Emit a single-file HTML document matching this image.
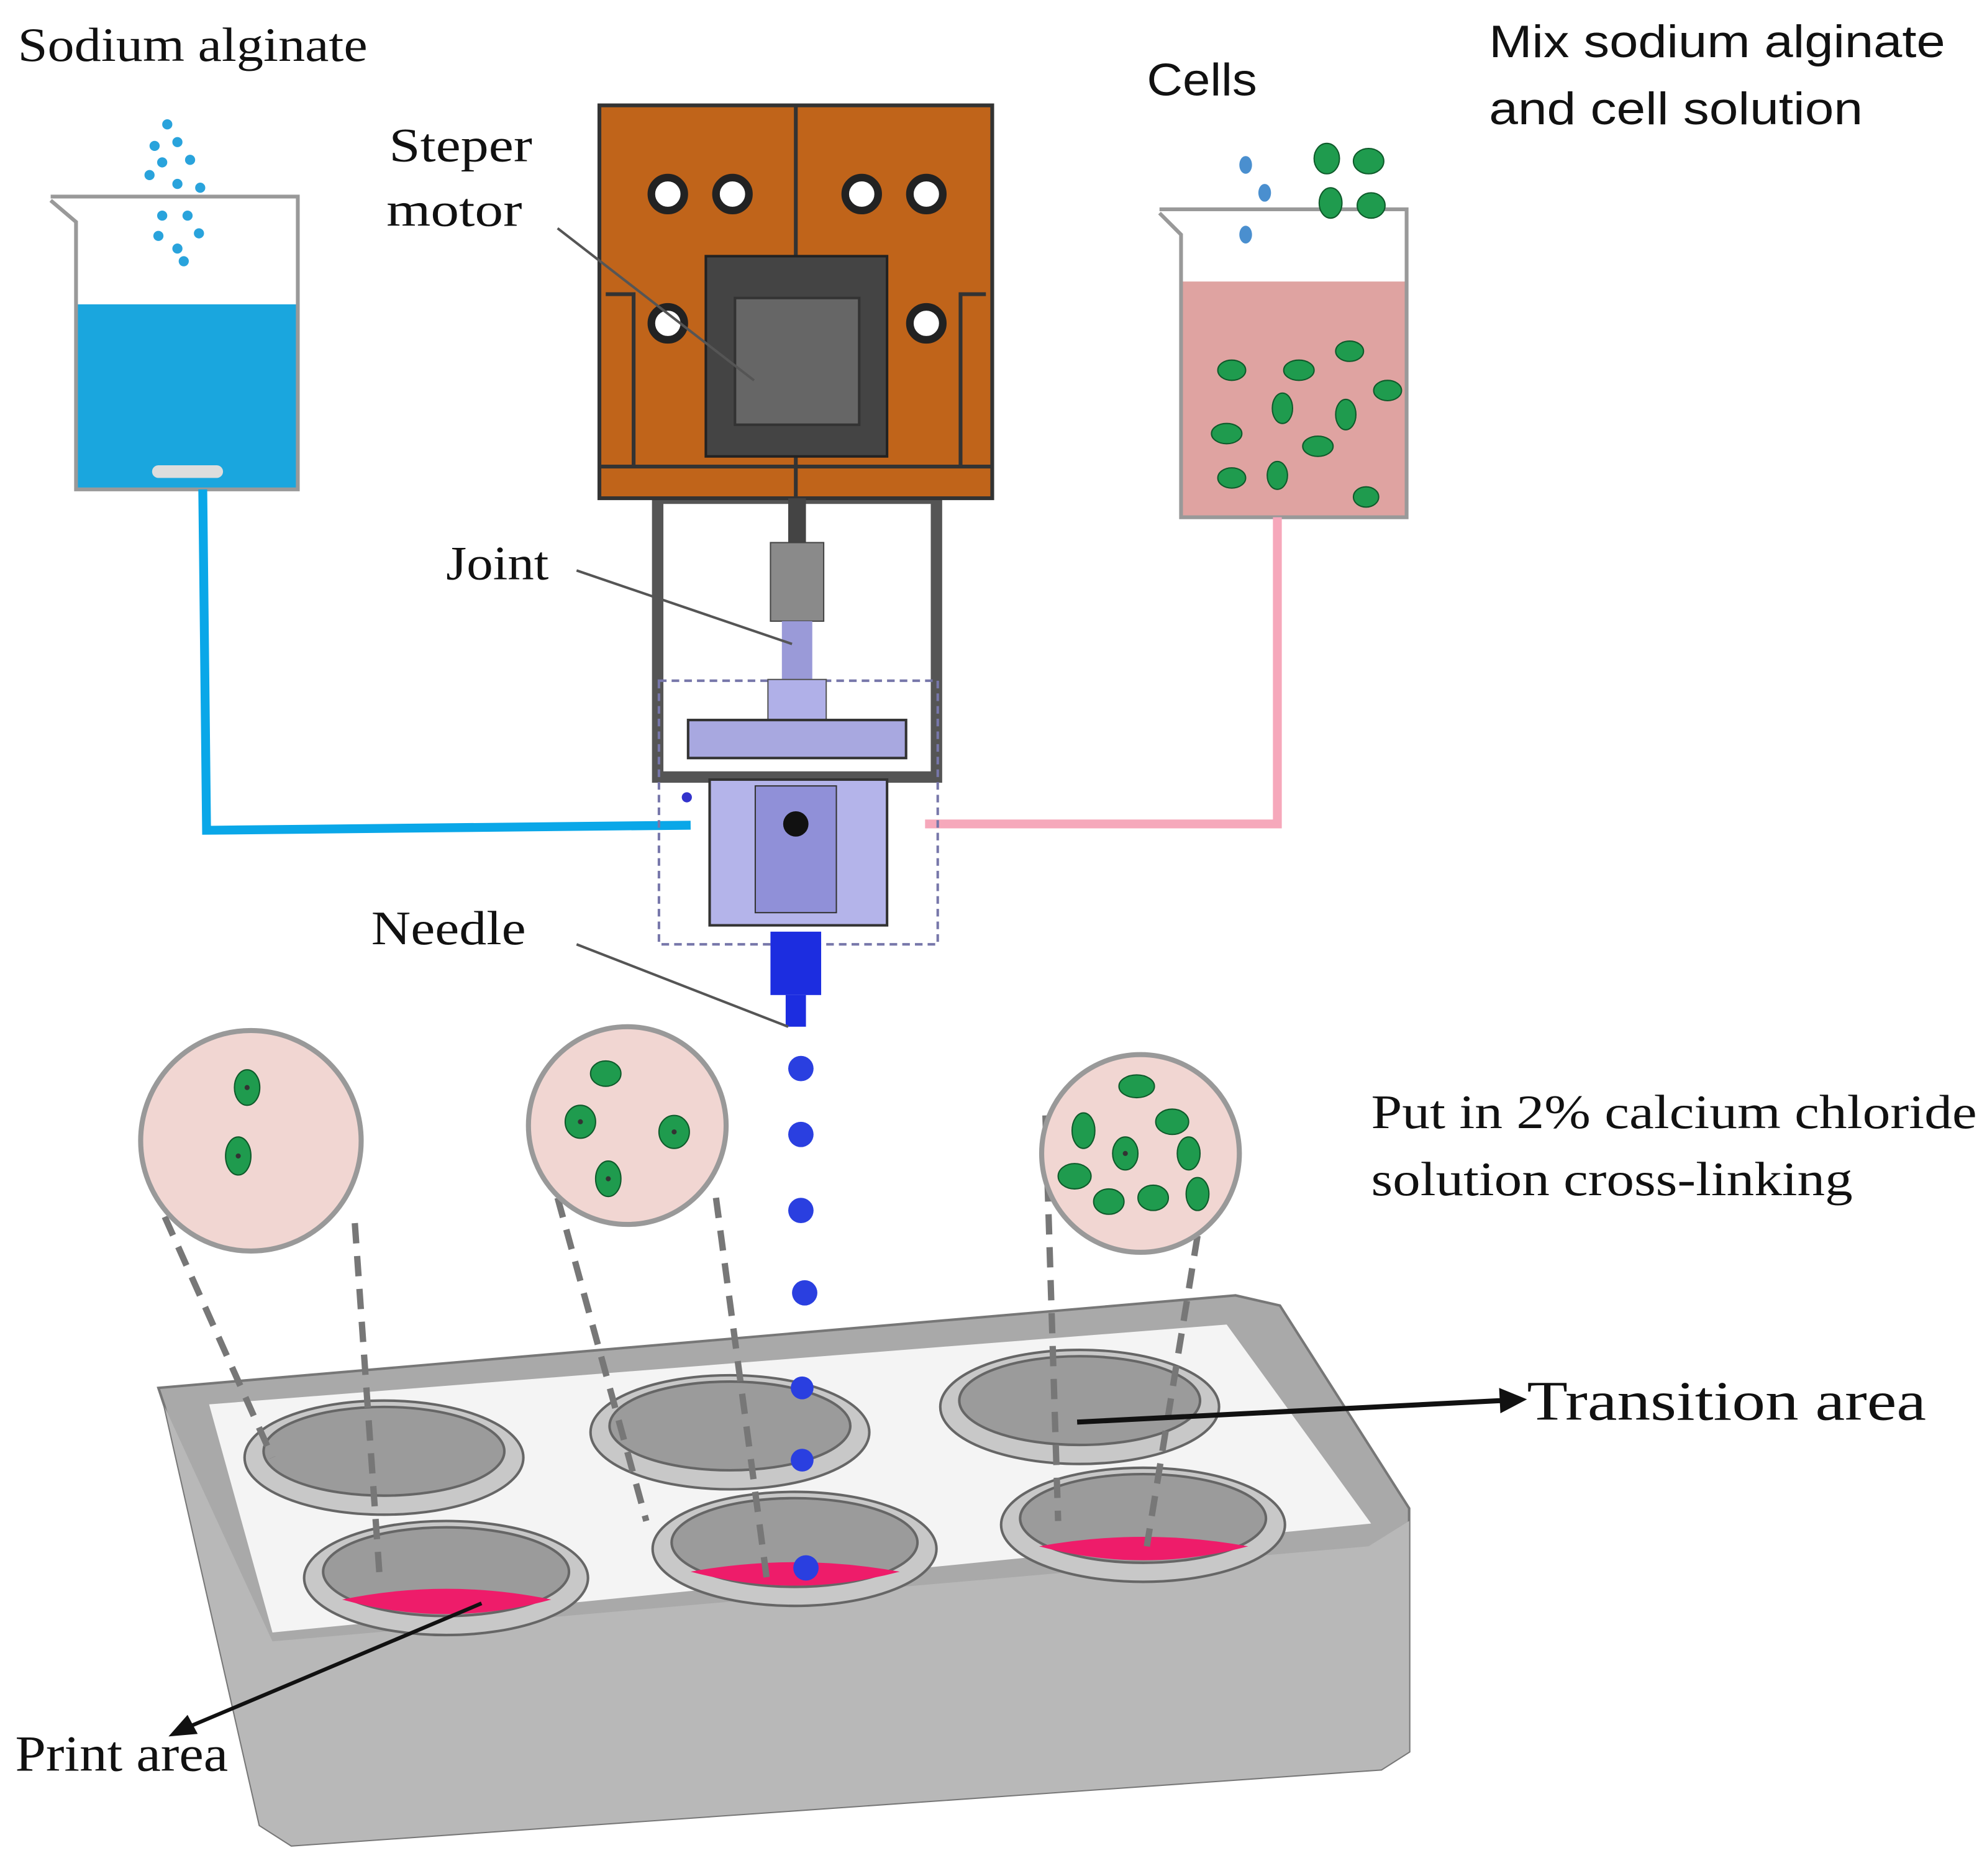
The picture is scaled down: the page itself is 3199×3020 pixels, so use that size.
<!DOCTYPE html>
<html><head><meta charset="utf-8"><style>
html,body{margin:0;padding:0;background:#fff;}
svg{display:block;}
text{font-family:"Liberation Serif",serif;fill:#111;}
.s{font-family:"Liberation Sans",sans-serif;}
</style></head><body>
<svg width="3199" height="3020" viewBox="0 0 1568 1480" xmlns="http://www.w3.org/2000/svg">
<rect width="1568" height="1480" fill="#fff"/>
<!-- texts -->
<text x="14" y="48" font-size="38" textLength="276" lengthAdjust="spacingAndGlyphs">Sodium alginate</text>
<text x="307" y="127" font-size="38" textLength="113" lengthAdjust="spacingAndGlyphs">Steper</text>
<text x="305" y="178" font-size="38" textLength="107" lengthAdjust="spacingAndGlyphs">motor</text>
<text x="352" y="457" font-size="38" textLength="81" lengthAdjust="spacingAndGlyphs">Joint</text>
<text x="293" y="745" font-size="38" textLength="122" lengthAdjust="spacingAndGlyphs">Needle</text>
<text x="905" y="75" font-size="36" class="s" textLength="87" lengthAdjust="spacingAndGlyphs">Cells</text>
<text x="1175" y="45" font-size="36" class="s" textLength="360" lengthAdjust="spacingAndGlyphs">Mix sodium alginate</text>
<text x="1175" y="98" font-size="36" class="s" textLength="295" lengthAdjust="spacingAndGlyphs">and cell solution</text>
<text x="1082" y="890" font-size="38" textLength="478" lengthAdjust="spacingAndGlyphs">Put in  2% calcium  chloride</text>
<text x="1082" y="943" font-size="38" textLength="380" lengthAdjust="spacingAndGlyphs">solution cross-linking</text>
<text x="1205" y="1120" font-size="44" textLength="315" lengthAdjust="spacingAndGlyphs">Transition   area</text>
<text x="12" y="1397" font-size="40" textLength="168" lengthAdjust="spacingAndGlyphs">Print area</text>

<!-- left beaker -->
<rect x="60" y="240" width="175" height="146" fill="#1aa6de"/>
<path d="M40 158 L60 175 L60 386 L235 386 L235 155 L40 155" fill="none" stroke="#999" stroke-width="3"/>
<rect x="120" y="367" width="56" height="10" rx="5" fill="#ddd"/>
<g fill="#29a3dc">
<circle cx="132" cy="98" r="4"/><circle cx="122" cy="115" r="4"/><circle cx="140" cy="112" r="4"/><circle cx="128" cy="128" r="4"/><circle cx="150" cy="126" r="4"/><circle cx="118" cy="138" r="4"/><circle cx="140" cy="145" r="4"/><circle cx="158" cy="148" r="4"/><circle cx="128" cy="170" r="4"/><circle cx="148" cy="170" r="4"/><circle cx="125" cy="186" r="4"/><circle cx="157" cy="184" r="4"/><circle cx="140" cy="196" r="4"/><circle cx="145" cy="206" r="4"/>
</g>
<polyline points="160,386 163,655 545,651" fill="none" stroke="#0aa7e8" stroke-width="7"/>

<!-- right beaker -->
<rect x="932" y="222" width="178" height="186" fill="#dfa3a1"/>
<path d="M915 168 L932 185 L932 408 L1110 408 L1110 165 L915 165" fill="none" stroke="#999" stroke-width="3"/>
<g fill="#1f9b4e" stroke="#0e5a2a" stroke-width="1">
<ellipse cx="972" cy="292" rx="11" ry="8"/><ellipse cx="1025" cy="292" rx="12" ry="8"/><ellipse cx="1065" cy="277" rx="11" ry="8"/><ellipse cx="1012" cy="322" rx="8" ry="12"/><ellipse cx="968" cy="342" rx="12" ry="8"/><ellipse cx="1062" cy="327" rx="8" ry="12"/><ellipse cx="1095" cy="308" rx="11" ry="8"/><ellipse cx="1040" cy="352" rx="12" ry="8"/><ellipse cx="972" cy="377" rx="11" ry="8"/><ellipse cx="1008" cy="375" rx="8" ry="11"/><ellipse cx="1078" cy="392" rx="10" ry="8"/>
<ellipse cx="1047" cy="125" rx="10" ry="12"/><ellipse cx="1080" cy="127" rx="12" ry="10"/><ellipse cx="1050" cy="160" rx="9" ry="12"/><ellipse cx="1082" cy="162" rx="11" ry="10"/>
</g>
<g fill="#4a8fcf"><ellipse cx="983" cy="130" rx="5" ry="7"/><ellipse cx="998" cy="152" rx="5" ry="7"/><ellipse cx="983" cy="185" rx="5" ry="7"/></g>
<polyline points="1008,408 1008,650 730,650" fill="none" stroke="#f6a8bb" stroke-width="7"/>

<!-- frame -->
<rect x="519" y="393" width="220" height="220" fill="none" stroke="#555" stroke-width="9"/>
<rect x="520" y="537" width="220" height="208" fill="none" stroke="#7777aa" stroke-width="2" stroke-dasharray="6,4"/>
<!-- motor -->
<rect x="473" y="83" width="310" height="310" fill="#c0641a" stroke="#333" stroke-width="3"/>
<line x1="628" y1="83" x2="628" y2="393" stroke="#333" stroke-width="3"/>
<line x1="473" y1="368" x2="783" y2="368" stroke="#333" stroke-width="3"/>
<path d="M478 232 L500 232 L500 368 M778 232 L758 232 L758 368" fill="none" stroke="#333" stroke-width="3"/>
<rect x="557" y="202" width="143" height="158" fill="#444" stroke="#222" stroke-width="2"/>
<rect x="580" y="235" width="98" height="100" fill="#666" stroke="#333" stroke-width="2"/>
<g fill="#fff" stroke="#222" stroke-width="6">
<circle cx="527" cy="153" r="13"/><circle cx="578" cy="153" r="13"/><circle cx="680" cy="153" r="13"/><circle cx="731" cy="153" r="13"/><circle cx="527" cy="255" r="13"/><circle cx="731" cy="255" r="13"/>
</g>
<!-- shaft, joint -->
<rect x="622" y="393" width="14" height="35" fill="#444"/>
<rect x="608" y="428" width="42" height="62" fill="#8a8a8a" stroke="#444"/>
<rect x="617" y="490" width="24" height="48" fill="#9a9ad8"/>
<rect x="606" y="536" width="46" height="32" fill="#b0b0e8" stroke="#555"/>
<rect x="543" y="568" width="172" height="30" fill="#a8a8e0" stroke="#333" stroke-width="2"/>
<rect x="560" y="615" width="140" height="115" fill="#b4b4ea" stroke="#333" stroke-width="2"/>
<rect x="596" y="620" width="64" height="100" fill="#9090d8" stroke="#333"/>
<circle cx="628" cy="650" r="10" fill="#111"/>
<circle cx="542" cy="629" r="4" fill="#3333cc"/>
<rect x="608" y="735" width="40" height="50" fill="#1c2de0"/>
<rect x="620" y="785" width="16" height="25" fill="#1c2de0"/>
<!-- leader lines -->
<g stroke="#555" stroke-width="2">
<line x1="440" y1="180" x2="595" y2="300"/><line x1="455" y1="450" x2="625" y2="508"/><line x1="455" y1="745" x2="622" y2="810"/>
</g>

<!-- tray -->
<path d="M125 1095 L975 1022 L1010 1030 L1112 1190 L1112 1382 L1090 1396 L230 1456 L205 1440 L130 1110 Z" fill="#a9a9a9" stroke="#777" stroke-width="2"/>
<path d="M130 1110 L205 1440 L230 1456 L1090 1396 L1112 1382 L1112 1200 L1080 1220 L215 1295 Z" fill="#b8b8b8"/>
<path d="M165 1108 L968 1045 L1082 1202 L215 1288 Z" fill="#f4f4f4"/>
<!-- wells -->
<g stroke="#666" stroke-width="2">
<ellipse cx="303" cy="1150" rx="110" ry="45" fill="#c8c8c8"/><ellipse cx="303" cy="1145" rx="95" ry="35" fill="#9b9b9b"/>
<ellipse cx="576" cy="1130" rx="110" ry="45" fill="#c8c8c8"/><ellipse cx="576" cy="1125" rx="95" ry="35" fill="#9b9b9b"/>
<ellipse cx="852" cy="1110" rx="110" ry="45" fill="#c8c8c8"/><ellipse cx="852" cy="1105" rx="95" ry="35" fill="#9b9b9b"/>
<ellipse cx="352" cy="1245" rx="112" ry="45" fill="#c8c8c8"/><ellipse cx="352" cy="1240" rx="97" ry="35" fill="#9b9b9b"/>
<ellipse cx="627" cy="1222" rx="112" ry="45" fill="#c8c8c8"/><ellipse cx="627" cy="1217" rx="97" ry="35" fill="#9b9b9b"/>
<ellipse cx="902" cy="1203" rx="112" ry="45" fill="#c8c8c8"/><ellipse cx="902" cy="1198" rx="97" ry="35" fill="#9b9b9b"/>
</g>
<g fill="#ee1c6a">
<path d="M270 1262 Q352 1245 435 1262 Q352 1285 270 1262Z"/>
<path d="M545 1240 Q627 1225 710 1240 Q627 1262 545 1240Z"/>
<path d="M820 1220 Q902 1205 985 1220 Q902 1242 820 1220Z"/>
</g>

<!-- dashed lines -->
<g stroke="#777" stroke-width="5" stroke-dasharray="16,10" fill="none">
<line x1="130" y1="960" x2="215" y2="1150"/><line x1="280" y1="965" x2="300" y2="1250"/>
<line x1="440" y1="945" x2="510" y2="1200"/><line x1="565" y1="945" x2="605" y2="1245"/>
<line x1="825" y1="880" x2="835" y2="1200"/><line x1="945" y1="975" x2="905" y2="1220"/>
</g>
<!-- magnified circles -->
<g stroke="#999" stroke-width="4" fill="#f1d6d2">
<circle cx="198" cy="900" r="87"/><circle cx="495" cy="888" r="78"/><circle cx="900" cy="910" r="78"/>
</g>
<g fill="#1f9b4e" stroke="#0e5a2a" stroke-width="1">
<ellipse cx="195" cy="858" rx="10" ry="14"/><ellipse cx="188" cy="912" rx="10" ry="15"/>
<ellipse cx="478" cy="847" rx="12" ry="10"/><ellipse cx="458" cy="885" rx="12" ry="13"/><ellipse cx="532" cy="893" rx="12" ry="13"/><ellipse cx="480" cy="930" rx="10" ry="14"/>
<ellipse cx="897" cy="857" rx="14" ry="9"/><ellipse cx="855" cy="892" rx="9" ry="14"/><ellipse cx="925" cy="885" rx="13" ry="10"/><ellipse cx="888" cy="910" rx="10" ry="13"/><ellipse cx="938" cy="910" rx="9" ry="13"/><ellipse cx="848" cy="928" rx="13" ry="10"/><ellipse cx="875" cy="948" rx="12" ry="10"/><ellipse cx="910" cy="945" rx="12" ry="10"/><ellipse cx="945" cy="942" rx="9" ry="13"/>
</g>
<g fill="#333"><circle cx="195" cy="858" r="2"/><circle cx="188" cy="912" r="2"/><circle cx="458" cy="885" r="2"/><circle cx="532" cy="893" r="2"/><circle cx="480" cy="930" r="2"/><circle cx="888" cy="910" r="2"/></g>

<!-- drops -->
<g fill="#2a3fe0">
<circle cx="632" cy="843" r="10"/><circle cx="632" cy="895" r="10"/><circle cx="632" cy="955" r="10"/><circle cx="635" cy="1020" r="10"/><circle cx="633" cy="1095" r="9"/><circle cx="633" cy="1152" r="9"/><circle cx="636" cy="1237" r="10"/>
</g>

<!-- arrows -->
<line x1="850" y1="1122" x2="1185" y2="1105" stroke="#111" stroke-width="4"/>
<polygon points="1205,1104 1183,1095 1184,1115" fill="#111"/>
<line x1="380" y1="1265" x2="150" y2="1362" stroke="#111" stroke-width="3"/>
<polygon points="133,1370 148,1353 156,1368" fill="#111"/>
</svg>
</body></html>
